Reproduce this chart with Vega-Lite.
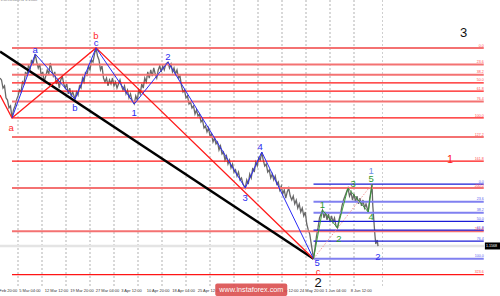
{
"$schema":"https://vega.github.io/schema/vega-lite/v6.json",
"width":484,"height":287,
"autosize":{"type":"none"},
"padding":{"left":0,"top":0,"right":16,"bottom":9},
"background":"#ffffff",
"config":{"view":{"stroke":null},"font":"Liberation Sans"},
"datasets":{
"grid":[{"b":24},{"b":56},{"b":88},{"b":120},{"b":152},{"b":184},{"b":216},{"b":248},{"b":280},{"b":312},{"b":344},{"b":376},{"b":408},{"b":440},{"b":472}],
"shift":[{"b":510}],
"bid":[{"p":1.1568}],
"dates":[{"b":-9,"t":"26 Feb 20:00"},{"b":25,"t":"5 Mar 04:00"},{"b":59,"t":"12 Mar 12:00"},{"b":93,"t":"19 Mar 20:00"},{"b":127,"t":"27 Mar 04:00"},{"b":161,"t":"3 Apr 12:00"},{"b":195,"t":"10 Apr 20:00"},{"b":229,"t":"18 Apr 04:00"},{"b":263,"t":"25 Apr 12:00"},{"b":297,"t":"2 May 20:00"},{"b":331,"t":"10 May 04:00"},{"b":365,"t":"17 May 12:00"},{"b":399,"t":"24 May 20:00"},{"b":433,"t":"1 Jun 04:00"},{"b":467,"t":"8 Jun 12:00"}],
"price":[{"b":0,"p":1.2338},{"b":2,"p":1.2329},{"b":4,"p":1.2292},{"b":6,"p":1.2302},{"b":8,"p":1.2247},{"b":10,"p":1.2237},{"b":12,"p":1.2201},{"b":14,"p":1.2210},{"b":16,"p":1.2155},{"b":18,"p":1.2192},{"b":20,"p":1.2210},{"b":22,"p":1.2237},{"b":24,"p":1.2256},{"b":26,"p":1.2283},{"b":28,"p":1.2274},{"b":30,"p":1.2320},{"b":32,"p":1.2311},{"b":34,"p":1.2366},{"b":36,"p":1.2347},{"b":38,"p":1.2398},{"b":40,"p":1.2375},{"b":42,"p":1.2421},{"b":44,"p":1.2402},{"b":47,"p":1.2448},{"b":49,"p":1.2411},{"b":51,"p":1.2384},{"b":53,"p":1.2402},{"b":55,"p":1.2347},{"b":57,"p":1.2366},{"b":59,"p":1.2320},{"b":61,"p":1.2347},{"b":63,"p":1.2375},{"b":65,"p":1.2356},{"b":67,"p":1.2407},{"b":69,"p":1.2375},{"b":71,"p":1.2347},{"b":73,"p":1.2366},{"b":75,"p":1.2311},{"b":77,"p":1.2329},{"b":79,"p":1.2292},{"b":81,"p":1.2329},{"b":83,"p":1.2347},{"b":85,"p":1.2311},{"b":87,"p":1.2292},{"b":89,"p":1.2311},{"b":91,"p":1.2265},{"b":93,"p":1.2292},{"b":95,"p":1.2256},{"b":97,"p":1.2274},{"b":100,"p":1.2241},{"b":102,"p":1.2274},{"b":104,"p":1.2260},{"b":106,"p":1.2302},{"b":108,"p":1.2292},{"b":110,"p":1.2338},{"b":112,"p":1.2320},{"b":114,"p":1.2366},{"b":116,"p":1.2347},{"b":118,"p":1.2393},{"b":120,"p":1.2375},{"b":122,"p":1.2421},{"b":124,"p":1.2411},{"b":126,"p":1.2448},{"b":128,"p":1.2476},{"b":130,"p":1.2439},{"b":132,"p":1.2421},{"b":134,"p":1.2375},{"b":136,"p":1.2393},{"b":138,"p":1.2338},{"b":140,"p":1.2320},{"b":142,"p":1.2338},{"b":144,"p":1.2302},{"b":146,"p":1.2329},{"b":148,"p":1.2311},{"b":150,"p":1.2338},{"b":152,"p":1.2302},{"b":154,"p":1.2320},{"b":156,"p":1.2292},{"b":158,"p":1.2311},{"b":160,"p":1.2329},{"b":162,"p":1.2302},{"b":164,"p":1.2283},{"b":166,"p":1.2302},{"b":168,"p":1.2265},{"b":170,"p":1.2283},{"b":172,"p":1.2247},{"b":174,"p":1.2265},{"b":176,"p":1.2237},{"b":179,"p":1.2219},{"b":181,"p":1.2256},{"b":183,"p":1.2237},{"b":185,"p":1.2283},{"b":187,"p":1.2265},{"b":189,"p":1.2311},{"b":191,"p":1.2292},{"b":193,"p":1.2338},{"b":195,"p":1.2320},{"b":197,"p":1.2366},{"b":199,"p":1.2338},{"b":201,"p":1.2375},{"b":203,"p":1.2347},{"b":205,"p":1.2384},{"b":207,"p":1.2356},{"b":209,"p":1.2338},{"b":211,"p":1.2375},{"b":213,"p":1.2393},{"b":215,"p":1.2366},{"b":217,"p":1.2393},{"b":219,"p":1.2375},{"b":221,"p":1.2402},{"b":224,"p":1.2411},{"b":226,"p":1.2384},{"b":228,"p":1.2402},{"b":230,"p":1.2366},{"b":232,"p":1.2384},{"b":234,"p":1.2356},{"b":236,"p":1.2375},{"b":238,"p":1.2338},{"b":240,"p":1.2347},{"b":242,"p":1.2302},{"b":244,"p":1.2274},{"b":246,"p":1.2283},{"b":248,"p":1.2247},{"b":250,"p":1.2256},{"b":252,"p":1.2219},{"b":254,"p":1.2228},{"b":256,"p":1.2201},{"b":258,"p":1.2210},{"b":260,"p":1.2173},{"b":262,"p":1.2192},{"b":264,"p":1.2164},{"b":266,"p":1.2173},{"b":268,"p":1.2137},{"b":270,"p":1.2146},{"b":272,"p":1.2109},{"b":274,"p":1.2118},{"b":276,"p":1.2091},{"b":278,"p":1.2109},{"b":280,"p":1.2072},{"b":282,"p":1.2082},{"b":284,"p":1.2045},{"b":286,"p":1.2063},{"b":288,"p":1.2036},{"b":290,"p":1.2045},{"b":292,"p":1.2008},{"b":294,"p":1.2027},{"b":296,"p":1.1990},{"b":298,"p":1.1999},{"b":300,"p":1.1962},{"b":302,"p":1.1981},{"b":304,"p":1.1944},{"b":306,"p":1.1962},{"b":308,"p":1.1926},{"b":310,"p":1.1944},{"b":312,"p":1.1907},{"b":314,"p":1.1917},{"b":316,"p":1.1889},{"b":318,"p":1.1907},{"b":320,"p":1.1871},{"b":322,"p":1.1880},{"b":324,"p":1.1852},{"b":327,"p":1.1834},{"b":329,"p":1.1871},{"b":331,"p":1.1852},{"b":333,"p":1.1898},{"b":335,"p":1.1880},{"b":337,"p":1.1926},{"b":339,"p":1.1907},{"b":341,"p":1.1953},{"b":343,"p":1.1935},{"b":345,"p":1.1972},{"b":347,"p":1.1962},{"b":349,"p":1.1999},{"b":351,"p":1.1962},{"b":353,"p":1.1935},{"b":355,"p":1.1944},{"b":357,"p":1.1907},{"b":359,"p":1.1917},{"b":361,"p":1.1880},{"b":363,"p":1.1898},{"b":365,"p":1.1871},{"b":367,"p":1.1889},{"b":369,"p":1.1852},{"b":371,"p":1.1862},{"b":373,"p":1.1825},{"b":375,"p":1.1843},{"b":377,"p":1.1807},{"b":379,"p":1.1825},{"b":381,"p":1.1788},{"b":383,"p":1.1816},{"b":385,"p":1.1834},{"b":387,"p":1.1797},{"b":389,"p":1.1779},{"b":391,"p":1.1797},{"b":393,"p":1.1761},{"b":395,"p":1.1779},{"b":397,"p":1.1742},{"b":399,"p":1.1761},{"b":401,"p":1.1724},{"b":403,"p":1.1742},{"b":405,"p":1.1706},{"b":407,"p":1.1724},{"b":409,"p":1.1669},{"b":411,"p":1.1642},{"b":413,"p":1.1623},{"b":415,"p":1.1578},{"b":418,"p":1.1510},{"b":420,"p":1.1559},{"b":422,"p":1.1614},{"b":424,"p":1.1651},{"b":426,"p":1.1697},{"b":428,"p":1.1715},{"b":430,"p":1.1733},{"b":432,"p":1.1697},{"b":434,"p":1.1724},{"b":436,"p":1.1688},{"b":438,"p":1.1715},{"b":440,"p":1.1678},{"b":442,"p":1.1706},{"b":444,"p":1.1678},{"b":446,"p":1.1697},{"b":448,"p":1.1660},{"b":450,"p":1.1651},{"b":452,"p":1.1688},{"b":454,"p":1.1715},{"b":456,"p":1.1752},{"b":458,"p":1.1779},{"b":460,"p":1.1797},{"b":462,"p":1.1816},{"b":464,"p":1.1834},{"b":466,"p":1.1797},{"b":468,"p":1.1816},{"b":470,"p":1.1779},{"b":472,"p":1.1807},{"b":474,"p":1.1770},{"b":476,"p":1.1797},{"b":478,"p":1.1761},{"b":480,"p":1.1788},{"b":482,"p":1.1752},{"b":484,"p":1.1779},{"b":486,"p":1.1742},{"b":488,"p":1.1761},{"b":491,"p":1.1724},{"b":493,"p":1.1788},{"b":495,"p":1.1825},{"b":496,"p":1.1852},{"b":497,"p":1.1756},{"b":499,"p":1.1660},{"b":500,"p":1.1614},{"b":501,"p":1.1578},{"b":503,"p":1.1596},{"b":504,"p":1.1568}],
"fibA":[{"lvl":"0.0","p":1.2476,"b":16,"b2":645},{"lvl":"23.6","p":1.2400,"b":16,"b2":645},{"lvl":"38.2","p":1.2353,"b":16,"b2":645},{"lvl":"50.0","p":1.2316,"b":16,"b2":645},{"lvl":"61.8","p":1.2278,"b":16,"b2":645},{"lvl":"76.4","p":1.2231,"b":16,"b2":645},{"lvl":"100.0","p":1.2155,"b":16,"b2":645},{"lvl":"127.2","p":1.2068,"b":16,"b2":645},{"lvl":"161.8","p":1.1957,"b":16,"b2":645},{"lvl":"200.0","p":1.1834,"b":16,"b2":645},{"lvl":"261.8","p":1.1636,"b":16,"b2":645},{"lvl":"323.6","p":1.1437,"b":16,"b2":645}],
"fibB":[{"lvl":"0.0","p":1.1852,"b":418,"b2":645},{"lvl":"23.6","p":1.1771,"b":418,"b2":645},{"lvl":"38.2","p":1.1721,"b":418,"b2":645},{"lvl":"50.0","p":1.1681,"b":418,"b2":645},{"lvl":"61.8","p":1.1641,"b":418,"b2":645},{"lvl":"76.4","p":1.1591,"b":418,"b2":645},{"lvl":"100.0","p":1.1510,"b":418,"b2":645}],
"waves":[{"s":"trend","b":0,"p":1.2459},{"s":"trend","b":418,"p":1.1510},{"s":"abc","b":0,"p":1.2260},{"s":"abc","b":16,"p":1.2155},{"s":"abc","b":128,"p":1.2476},{"s":"abc","b":418,"p":1.1510},{"s":"minor","b":16,"p":1.2155},{"s":"minor","b":47,"p":1.2448},{"s":"minor","b":100,"p":1.2241},{"s":"minor","b":128,"p":1.2476},{"s":"minor","b":179,"p":1.2219},{"s":"minor","b":224,"p":1.2411},{"s":"minor","b":327,"p":1.1834},{"s":"minor","b":349,"p":1.1999},{"s":"minor","b":418,"p":1.1510},{"s":"minute","b":418,"p":1.1510},{"s":"minute","b":430,"p":1.1733},{"s":"minute","b":450,"p":1.1651},{"s":"minute","b":464,"p":1.1834},{"s":"minute","b":491,"p":1.1724},{"s":"minute","b":496,"p":1.1852},{"s":"proj","b":418,"p":1.1510},{"s":"proj","b":496,"p":1.1852}],
"labels":[{"t":"a","d":"abc","b":15,"p":1.2109},{"t":"b","d":"abc","b":128,"p":1.2531},{"t":"c","d":"abc","b":424,"p":1.1449},{"t":"a","d":"minor","b":47,"p":1.2466},{"t":"b","d":"minor","b":100,"p":1.2199},{"t":"c","d":"minor","b":128,"p":1.2497},{"t":"1","d":"minor","b":179,"p":1.2176},{"t":"2","d":"minor","b":224,"p":1.2433},{"t":"3","d":"minor","b":327,"p":1.1790},{"t":"4","d":"minor","b":347,"p":1.2022},{"t":"5","d":"minor","b":423,"p":1.1490},{"t":"2","d":"minor","b":504,"p":1.1517},{"t":"1","d":"minor1","b":495,"p":1.1914},{"t":"1","d":"minute","b":430,"p":1.1756},{"t":"2","d":"minute","b":452,"p":1.1599},{"t":"3","d":"minute","b":471,"p":1.1851},{"t":"4","d":"minute","b":495,"p":1.1700},{"t":"5","d":"minute","b":495,"p":1.1875}],
"big":[{"t":"2","d":"primary","b":424,"p":1.1398},{"t":"3","d":"primary","b":618,"p":1.2543},{"t":"1","d":"intermediate","b":600,"p":1.1962}],
"mark":[{"b":287,"b2":383,"p":1.13965,"p2":1.1339,"bc":335,"pc":1.13667,"t":"www.instaforex.com"}],
"last":[{"b":646.5,"b2":667,"p":1.15845,"p2":1.15525,"bt":648,"t":"1.1568"}],
"head":[{"b":1,"p":1.2686,"t":"EURUSD,H4  1.1568"}]
},
"layer":[
{"data":{"name":"grid"},"mark":{"type":"rule","stroke":"#8f8f8f","strokeWidth":0.7,"strokeDash":[2,2]},
 "encoding":{"x":{"field":"b","type":"quantitative","scale":{"domain":[0,645.33],"nice":false,"zero":false},
  "axis":{"orient":"bottom","title":null,"grid":false,"values":[25,59,93,127,161,195,229,263,297,331,365,399,433,467],"labels":false,"tickSize":2,"tickColor":"#666","tickWidth":0.6,"domainColor":"#777","domainWidth":0.8}}}},
{"data":{"name":"dates"},"mark":{"type":"text","fill":"#333333","fontSize":4,"align":"left","baseline":"middle","dx":0.5,"dy":4.3},
 "encoding":{"x":{"field":"b","type":"quantitative","scale":{"domain":[0,645.33],"nice":false,"zero":false},"axis":null},
  "y":{"datum":1.13805,"type":"quantitative","scale":{"domain":[1.13805,1.26955],"nice":false,"zero":false},"axis":null},"text":{"field":"t"}}},
{"data":{"name":"shift"},"mark":{"type":"rule","stroke":"#cfcfcf","strokeWidth":1,"strokeDash":[2,2]},
 "encoding":{"x":{"field":"b","type":"quantitative","scale":{"domain":[0,645.33],"nice":false,"zero":false},"axis":null}}},
{"data":{"name":"bid"},"mark":{"type":"rule","stroke":"#e4e4e4","strokeWidth":2.5},
 "encoding":{"y":{"field":"p","type":"quantitative","scale":{"domain":[1.13805,1.26955],"nice":false,"zero":false},"axis":null}}},
{"data":{"name":"price"},"mark":{"type":"line","stroke":"#686868","strokeWidth":1.3},
 "encoding":{"x":{"field":"b","type":"quantitative","scale":{"domain":[0,645.33],"nice":false,"zero":false},"axis":null},
  "y":{"field":"p","type":"quantitative","scale":{"domain":[1.13805,1.26955],"nice":false,"zero":false},
  "axis":{"orient":"right","title":null,"grid":false,"values":[1.2685,1.2625,1.256,1.25,1.2435,1.2375,1.2315,1.225,1.219,1.2125,1.2065,1.2,1.194,1.188,1.1815,1.1755,1.1695,1.163,1.1505,1.1445,1.1385],"format":".4f","labelFontSize":3.6,"labelColor":"#333","labelPadding":1,"labelOverlap":false,"labelFlush":false,"labelBound":false,"tickSize":2,"tickColor":"#666","tickWidth":0.6,"domainColor":"#777","domainWidth":0.8}}}},
{"data":{"name":"fibA"},"transform":[{"filter":{"field":"lvl","oneOf":["0.0","23.6","38.2","76.4","127.2","200.0","261.8"]}}],
 "mark":{"type":"rule","stroke":"#f47272","strokeWidth":2},
 "encoding":{"x":{"field":"b","type":"quantitative","scale":{"domain":[0,645.33],"nice":false,"zero":false},"axis":null},"x2":{"field":"b2"},
  "y":{"field":"p","type":"quantitative","scale":{"domain":[1.13805,1.26955],"nice":false,"zero":false},"axis":null}}},
{"data":{"name":"fibA"},"transform":[{"filter":{"field":"lvl","oneOf":["50.0","61.8","100.0","161.8","323.6"]}}],
 "mark":{"type":"rule","stroke":"#ff1414","strokeWidth":1.3},
 "encoding":{"x":{"field":"b","type":"quantitative","scale":{"domain":[0,645.33],"nice":false,"zero":false},"axis":null},"x2":{"field":"b2"},
  "y":{"field":"p","type":"quantitative","scale":{"domain":[1.13805,1.26955],"nice":false,"zero":false},"axis":null}}},
{"data":{"name":"fibB"},"transform":[{"filter":{"field":"lvl","oneOf":["23.6","38.2","100.0"]}}],
 "mark":{"type":"rule","stroke":"#8080f0","strokeWidth":2},
 "encoding":{"x":{"field":"b","type":"quantitative","scale":{"domain":[0,645.33],"nice":false,"zero":false},"axis":null},"x2":{"field":"b2"},
  "y":{"field":"p","type":"quantitative","scale":{"domain":[1.13805,1.26955],"nice":false,"zero":false},"axis":null}}},
{"data":{"name":"fibB"},"transform":[{"filter":{"field":"lvl","oneOf":["0.0","50.0","61.8","76.4"]}}],
 "mark":{"type":"rule","stroke":"#1c1cd6","strokeWidth":1.3},
 "encoding":{"x":{"field":"b","type":"quantitative","scale":{"domain":[0,645.33],"nice":false,"zero":false},"axis":null},"x2":{"field":"b2"},
  "y":{"field":"p","type":"quantitative","scale":{"domain":[1.13805,1.26955],"nice":false,"zero":false},"axis":null}}},
{"data":{"name":"fibA"},"mark":{"type":"text","fill":"#ff4a4a","fontSize":3.6,"align":"right","baseline":"bottom","dy":-0.4},
 "encoding":{"x":{"field":"b2","type":"quantitative","scale":{"domain":[0,645.33],"nice":false,"zero":false},"axis":null},
  "y":{"field":"p","type":"quantitative","scale":{"domain":[1.13805,1.26955],"nice":false,"zero":false},"axis":null},"text":{"field":"lvl"}}},
{"data":{"name":"fibB"},"mark":{"type":"text","fill":"#5a5af0","fontSize":3.6,"align":"right","baseline":"bottom","dy":-0.4},
 "encoding":{"x":{"field":"b2","type":"quantitative","scale":{"domain":[0,645.33],"nice":false,"zero":false},"axis":null},
  "y":{"field":"p","type":"quantitative","scale":{"domain":[1.13805,1.26955],"nice":false,"zero":false},"axis":null},"text":{"field":"lvl"}}},
{"data":{"name":"waves"},"transform":[{"filter":"datum.s=='proj'"}],"mark":{"type":"line","stroke":"#f29a9a","strokeWidth":1,"strokeDash":[1.5,1.5]},
 "encoding":{"x":{"field":"b","type":"quantitative","scale":{"domain":[0,645.33],"nice":false,"zero":false},"axis":null},
  "y":{"field":"p","type":"quantitative","scale":{"domain":[1.13805,1.26955],"nice":false,"zero":false},"axis":null}}},
{"data":{"name":"waves"},"transform":[{"filter":"datum.s=='trend'"}],"mark":{"type":"line","stroke":"#000000","strokeWidth":2.5},
 "encoding":{"x":{"field":"b","type":"quantitative","scale":{"domain":[0,645.33],"nice":false,"zero":false},"axis":null},
  "y":{"field":"p","type":"quantitative","scale":{"domain":[1.13805,1.26955],"nice":false,"zero":false},"axis":null}}},
{"data":{"name":"waves"},"transform":[{"filter":"datum.s=='abc'"}],"mark":{"type":"line","stroke":"#ff1a1a","strokeWidth":1.3},
 "encoding":{"x":{"field":"b","type":"quantitative","scale":{"domain":[0,645.33],"nice":false,"zero":false},"axis":null},
  "y":{"field":"p","type":"quantitative","scale":{"domain":[1.13805,1.26955],"nice":false,"zero":false},"axis":null}}},
{"data":{"name":"waves"},"transform":[{"filter":"datum.s=='minor'"}],"mark":{"type":"line","stroke":"#2a2af5","strokeWidth":1},
 "encoding":{"x":{"field":"b","type":"quantitative","scale":{"domain":[0,645.33],"nice":false,"zero":false},"axis":null},
  "y":{"field":"p","type":"quantitative","scale":{"domain":[1.13805,1.26955],"nice":false,"zero":false},"axis":null}}},
{"data":{"name":"waves"},"transform":[{"filter":"datum.s=='minute'"}],"mark":{"type":"line","stroke":"#2e9a2e","strokeWidth":0.9},
 "encoding":{"x":{"field":"b","type":"quantitative","scale":{"domain":[0,645.33],"nice":false,"zero":false},"axis":null},
  "y":{"field":"p","type":"quantitative","scale":{"domain":[1.13805,1.26955],"nice":false,"zero":false},"axis":null}}},
{"data":{"name":"labels"},"mark":{"type":"text","fontSize":9.5,"align":"center","baseline":"middle"},
 "encoding":{"x":{"field":"b","type":"quantitative","scale":{"domain":[0,645.33],"nice":false,"zero":false},"axis":null},
  "y":{"field":"p","type":"quantitative","scale":{"domain":[1.13805,1.26955],"nice":false,"zero":false},"axis":null},
  "text":{"field":"t"},
  "color":{"field":"d","type":"nominal","legend":null,"scale":{"domain":["abc","minor","minor1","minute"],"range":["#ff2a2a","#2b2bf0","#6f8fe6","#2e9a2e"]}}}},
{"data":{"name":"big"},"transform":[{"filter":"datum.d=='primary'"}],"mark":{"type":"text","fontSize":13,"align":"center","baseline":"middle","fill":"#111111"},
 "encoding":{"x":{"field":"b","type":"quantitative","scale":{"domain":[0,645.33],"nice":false,"zero":false},"axis":null},
  "y":{"field":"p","type":"quantitative","scale":{"domain":[1.13805,1.26955],"nice":false,"zero":false},"axis":null},"text":{"field":"t"}}},
{"data":{"name":"big"},"transform":[{"filter":"datum.d=='intermediate'"}],"mark":{"type":"text","fontSize":11,"align":"center","baseline":"middle","fill":"#ff2020"},
 "encoding":{"x":{"field":"b","type":"quantitative","scale":{"domain":[0,645.33],"nice":false,"zero":false},"axis":null},
  "y":{"field":"p","type":"quantitative","scale":{"domain":[1.13805,1.26955],"nice":false,"zero":false},"axis":null},"text":{"field":"t"}}},
{"data":{"name":"mark"},"mark":{"type":"rect","fill":"#d94a4a","opacity":0.88,"cornerRadius":2},
 "encoding":{"x":{"field":"b","type":"quantitative","scale":{"domain":[0,645.33],"nice":false,"zero":false},"axis":null},"x2":{"field":"b2"},
  "y":{"field":"p","type":"quantitative","scale":{"domain":[1.13805,1.26955],"nice":false,"zero":false},"axis":null},"y2":{"field":"p2"}}},
{"data":{"name":"mark"},"mark":{"type":"text","fill":"#ffffff","fontSize":7.2,"align":"center","baseline":"middle"},
 "encoding":{"x":{"field":"bc","type":"quantitative","scale":{"domain":[0,645.33],"nice":false,"zero":false},"axis":null},
  "y":{"field":"pc","type":"quantitative","scale":{"domain":[1.13805,1.26955],"nice":false,"zero":false},"axis":null},"text":{"field":"t"}}},
{"data":{"name":"last"},"mark":{"type":"rect","fill":"#000000"},
 "encoding":{"x":{"field":"b","type":"quantitative","scale":{"domain":[0,645.33],"nice":false,"zero":false},"axis":null},"x2":{"field":"b2"},
  "y":{"field":"p","type":"quantitative","scale":{"domain":[1.13805,1.26955],"nice":false,"zero":false},"axis":null},"y2":{"field":"p2"}}},
{"data":{"name":"last"},"mark":{"type":"text","fill":"#ffffff","fontSize":3.6,"align":"left","baseline":"middle","dy":-3.4},
 "encoding":{"x":{"field":"bt","type":"quantitative","scale":{"domain":[0,645.33],"nice":false,"zero":false},"axis":null},
  "y":{"field":"p2","type":"quantitative","scale":{"domain":[1.13805,1.26955],"nice":false,"zero":false},"axis":null},"text":{"field":"t"}}},
{"data":{"name":"head"},"mark":{"type":"text","fill":"#777777","fontSize":4,"align":"left","baseline":"bottom"},
 "encoding":{"x":{"field":"b","type":"quantitative","scale":{"domain":[0,645.33],"nice":false,"zero":false},"axis":null},
  "y":{"field":"p","type":"quantitative","scale":{"domain":[1.13805,1.26955],"nice":false,"zero":false},"axis":null},"text":{"field":"t"}}}
]
}
